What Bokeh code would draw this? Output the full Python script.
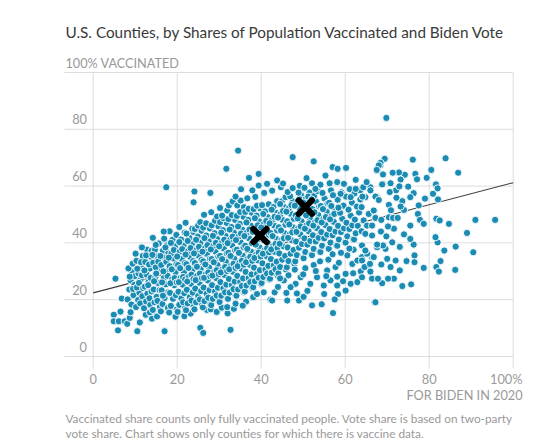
from bokeh.plotting import figure
from bokeh.models import Label, Range1d
from bokeh.embed import file_html
from bokeh.resources import INLINE

# ---------------- texts ----------------
TITLE = "U.S. Counties, by Shares of Population Vaccinated and Biden Vote"
Y_AXIS_LABEL = "100% VACCINATED"
X_AXIS_LABEL = "FOR BIDEN IN 2020"
NOTE_LINES = [
    "Vaccinated share counts only fully vaccinated people. Vote share is based on two-party",
    "vote share. Chart shows only counties for which there is vaccine data.",
]
X_TICKS = [0, 20, 40, 60, 80, 100]
X_TICK_LABELS = ["0", "20", "40", "60", "80", "100%"]
Y_TICKS = [0, 20, 40, 60, 80, 100]
Y_TICK_LABELS = ["0", "20", "40", "60", "80"]

# ---------------- data (Biden share %, vaccinated share %) ----------------
TREND_BIDEN = [0, 100]
TREND_VACCINATED = [22.4, 61.2]
MARKED_BIDEN = [39.7, 50.5]
MARKED_VACCINATED = [42.6, 52.6]

counties_far_left = [
    (5.3, 27.4), (6.8, 20.4), (4.9, 14.7), (6.5, 15.8), (4.9, 12.4), (6.1, 12.4), (7.5, 12.4),
    (8.1, 11.5), (8.7, 13.6), (8.9, 15.6), (5.9, 9.2), (10.5, 8.9), (11.1, 12.0), (12.5, 14.7),
    (13.5, 15.5), (14.0, 13.3), (15.2, 14.1), (17.0, 8.9), (21.7, 14.2), (25.5, 10.1), (26.2, 8.3),
    (27.1, 16.4), (28.0, 16.6), (32.7, 9.4), (32.0, 15.2), (33.5, 16.8), (19.6, 14.0), (23.2, 15.1),
    (29.4, 15.7), (36.4, 19.3), (38.1, 20.9), (35.6, 17.9), (30.6, 17.2),
]

counties_core_west = [
    (8.2, 20.1), (8.6, 23.6), (8.9, 26.8), (9.3, 29.7), (8.4, 31.0), (9.6, 21.6), (9.8, 25.2),
    (9.1, 18.3), (9.9, 28.3), (9.4, 32.7), (8.7, 28.1), (9.5, 23.8),
    (10.2, 17.4), (10.7, 19.9), (11.0, 22.5), (10.4, 24.3), (11.3, 27.1), (10.8, 29.2), (11.5, 31.2),
    (10.3, 33.7), (11.8, 35.4), (11.2, 18.7), (11.7, 21.2), (10.9, 25.9), (11.6, 28.6), (11.9, 24.1),
    (10.5, 30.9), (11.4, 33.2), (10.1, 36.2),
    (12.1, 17.0), (12.6, 19.4), (12.9, 22.1), (12.3, 24.6), (13.2, 26.3), (12.7, 28.9), (13.5, 31.0),
    (12.4, 33.3), (13.8, 35.1), (12.8, 37.6), (13.6, 18.2), (13.9, 22.9), (13.1, 25.1), (13.7, 27.7),
    (12.2, 30.3), (13.3, 32.4), (13.9, 37.2), (12.6, 35.6), (13.4, 20.5),
    (14.2, 16.4), (14.6, 19.1), (15.1, 21.0), (14.4, 23.6), (15.4, 25.9), (14.8, 27.9), (15.7, 30.6),
    (14.3, 33.0), (15.2, 35.3), (14.7, 37.6), (15.6, 39.8), (15.9, 17.5), (15.3, 19.6), (14.5, 26.5),
    (15.8, 23.4), (14.9, 31.4), (15.5, 33.4), (14.1, 35.8), (15.0, 29.2), (14.9, 39.3),
    (16.1, 15.9), (16.5, 18.5), (17.0, 20.6), (16.3, 23.3), (17.3, 25.4), (16.8, 27.6), (17.6, 30.3),
    (16.2, 32.2), (17.1, 34.9), (16.6, 37.2), (17.5, 39.1), (16.9, 41.5), (17.8, 17.1), (17.9, 22.6),
    (16.4, 26.1), (17.7, 28.4), (16.7, 30.0), (17.4, 33.3), (16.0, 35.4), (17.9, 36.6), (16.6, 21.4),
    (17.2, 38.4),
    (18.1, 15.5), (18.5, 17.8), (19.0, 20.3), (18.3, 22.4), (19.3, 25.1), (18.8, 27.2), (19.6, 29.7),
    (18.2, 31.8), (19.1, 34.5), (18.6, 36.3), (19.5, 38.9), (18.9, 41.1), (19.8, 42.8), (19.9, 16.5),
    (19.7, 21.6), (18.4, 25.8), (19.4, 27.6), (18.7, 30.7), (19.8, 32.5), (18.0, 34.8), (19.2, 37.5),
    (18.5, 40.0), (19.9, 26.1), (18.2, 44.1),
    (20.1, 15.7), (20.5, 18.2), (21.0, 20.4), (20.3, 22.8), (21.3, 25.3), (20.8, 27.6), (21.6, 29.6),
    (20.2, 32.2), (21.1, 34.4), (20.6, 36.9), (21.5, 39.1), (20.9, 41.2), (21.8, 43.6), (21.9, 17.1),
    (21.7, 22.3), (20.4, 26.2), (21.4, 28.0), (20.7, 31.1), (21.8, 32.9), (20.0, 35.2), (21.2, 37.8),
    (20.5, 40.3), (21.9, 27.1), (21.4, 19.1), (20.5, 45.6),
]

counties_core_middle = [
    (22.1, 16.3), (22.5, 18.7), (23.0, 20.9), (22.3, 23.5), (23.3, 25.6), (22.8, 28.1), (23.6, 30.4),
    (22.2, 32.5), (23.1, 35.1), (22.6, 37.1), (23.5, 39.6), (22.9, 41.8), (23.8, 43.9), (23.9, 17.6),
    (23.7, 22.5), (22.4, 26.4), (23.4, 28.8), (22.7, 31.2), (23.8, 33.6), (22.0, 35.9), (23.2, 38.2),
    (22.5, 40.7), (23.9, 27.3), (23.4, 19.7), (22.2, 43.3), (22.0, 47.1), (23.6, 45.0),
    (24.1, 16.6), (24.5, 19.1), (25.0, 21.3), (24.3, 23.9), (25.3, 26.0), (24.8, 28.5), (25.6, 30.8),
    (24.2, 32.9), (25.1, 35.5), (24.6, 37.5), (25.5, 40.0), (24.9, 42.2), (25.8, 44.3), (25.9, 18.1),
    (25.7, 23.0), (24.4, 26.9), (25.4, 29.2), (24.7, 31.6), (25.8, 34.0), (24.0, 36.3), (25.2, 38.6),
    (24.5, 41.1), (25.9, 27.6), (25.4, 20.1), (24.2, 44.9), (25.0, 46.1), (25.5, 47.3),
    (26.1, 17.3), (26.5, 19.5), (27.0, 22.1), (26.3, 24.3), (27.3, 26.8), (26.8, 28.9), (27.6, 31.4),
    (26.2, 33.5), (27.1, 36.1), (26.6, 38.1), (27.5, 40.6), (26.9, 42.6), (27.8, 45.1), (27.9, 18.5),
    (27.7, 23.4), (26.4, 27.7), (27.4, 29.6), (26.7, 32.4), (27.8, 34.4), (26.0, 36.9), (27.2, 39.2),
    (26.5, 41.7), (27.9, 28.2), (27.4, 20.7), (26.2, 45.4), (26.9, 46.9), (26.4, 49.9),
    (28.1, 18.1), (28.5, 20.3), (29.0, 22.9), (28.3, 25.1), (29.3, 27.6), (28.8, 29.7), (29.6, 32.2),
    (28.2, 34.3), (29.1, 36.9), (28.6, 38.9), (29.5, 41.4), (28.9, 43.4), (29.8, 45.9), (29.9, 19.3),
    (29.7, 24.2), (28.4, 28.5), (29.4, 30.4), (28.7, 33.2), (29.8, 35.2), (28.0, 37.7), (29.2, 40.0),
    (28.5, 42.5), (29.9, 29.0), (29.4, 21.5), (28.2, 46.2), (29.0, 47.8), (28.1, 50.8), (29.5, 49.3),
    (30.1, 19.2), (30.5, 21.4), (31.0, 24.0), (30.3, 26.2), (31.3, 28.7), (30.8, 30.8), (31.6, 33.3),
    (30.2, 35.4), (31.1, 38.0), (30.6, 40.0), (31.5, 42.5), (30.9, 44.5), (31.8, 47.0), (31.9, 20.4),
    (31.7, 25.3), (30.4, 29.6), (31.4, 31.5), (30.7, 34.3), (31.8, 36.3), (30.0, 38.8), (31.2, 41.1),
    (30.5, 43.6), (31.9, 30.1), (31.4, 22.6), (30.2, 47.3), (31.0, 48.7), (30.7, 49.6), (30.2, 52.3),
    (31.9, 51.4),
    (32.1, 20.3), (32.5, 22.5), (33.0, 25.1), (32.3, 27.3), (33.3, 29.8), (32.8, 31.9), (33.6, 34.4),
    (32.2, 36.5), (33.1, 39.1), (32.6, 41.1), (33.5, 43.6), (32.9, 45.6), (33.8, 48.1), (33.9, 21.5),
    (33.7, 26.4), (32.4, 30.7), (33.4, 32.6), (32.7, 35.4), (33.8, 37.4), (32.0, 39.9), (33.2, 42.2),
    (32.5, 44.7), (33.9, 31.2), (33.4, 23.7), (32.2, 48.4), (33.0, 49.8), (32.3, 53.2), (33.2, 54.6),
    (34.1, 21.4), (34.5, 23.6), (35.0, 26.2), (34.3, 28.4), (35.3, 30.9), (34.8, 33.0), (35.6, 35.5),
    (34.2, 37.6), (35.1, 40.2), (34.6, 42.2), (35.5, 44.7), (34.9, 46.7), (35.8, 49.2), (35.9, 22.6),
    (35.7, 27.5), (34.4, 31.8), (35.4, 33.7), (34.7, 36.5), (35.8, 38.5), (34.0, 41.0), (35.2, 43.3),
    (34.5, 45.8), (35.9, 32.3), (35.4, 24.8), (34.2, 49.5), (35.0, 50.9), (34.3, 53.2), (35.1, 54.9),
    (35.9, 52.6),
]

counties_core_east = [
    (36.1, 22.9), (36.5, 25.0), (37.0, 27.6), (36.3, 29.8), (37.3, 32.3), (36.8, 34.4), (37.6, 36.9),
    (36.2, 39.0), (37.1, 41.6), (36.6, 43.6), (37.5, 46.1), (36.9, 48.1), (37.8, 50.6), (37.9, 24.1),
    (37.7, 28.9), (36.4, 33.2), (37.4, 35.1), (36.7, 37.9), (37.8, 39.9), (36.0, 42.4), (37.2, 44.7),
    (36.5, 47.2), (37.9, 33.7), (37.4, 26.2), (36.2, 50.9), (37.0, 52.0), (36.7, 55.7),
    (38.1, 24.4), (38.5, 26.5), (39.0, 29.1), (38.3, 31.3), (39.3, 33.8), (38.8, 35.9), (39.6, 38.4),
    (38.2, 40.5), (39.1, 43.1), (38.6, 45.1), (39.5, 47.6), (38.9, 49.6), (39.8, 52.1), (39.9, 25.6),
    (39.7, 30.4), (38.4, 34.7), (39.4, 36.6), (38.7, 39.4), (39.8, 41.4), (38.0, 43.9), (39.2, 46.2),
    (38.5, 48.7), (39.9, 35.2), (39.4, 27.7), (38.2, 51.9), (39.0, 53.1), (38.6, 56.2),
    (40.1, 25.9), (40.5, 28.0), (41.0, 30.6), (40.3, 32.8), (41.3, 35.3), (40.8, 37.4), (41.6, 39.9),
    (40.2, 42.0), (41.1, 44.6), (40.6, 46.6), (41.5, 49.1), (40.9, 51.1), (41.8, 53.6), (41.9, 27.1),
    (41.7, 31.9), (40.4, 36.2), (41.4, 38.1), (40.7, 40.9), (41.8, 42.9), (40.0, 45.4), (41.2, 47.7),
    (40.5, 50.2), (41.9, 36.7), (41.4, 29.2), (40.2, 53.3), (40.7, 57.6),
    (42.1, 27.4), (42.5, 29.5), (43.0, 32.1), (42.3, 34.3), (43.3, 36.8), (42.8, 38.9), (43.6, 41.4),
    (42.2, 43.5), (43.1, 46.1), (42.6, 48.1), (43.5, 50.6), (42.9, 52.6), (43.8, 54.7), (43.9, 28.6),
    (43.7, 33.4), (42.4, 37.7), (43.4, 39.6), (42.7, 42.4), (43.8, 44.4), (42.0, 46.9), (43.2, 49.2),
    (42.5, 51.7), (43.9, 38.2), (43.4, 30.7), (42.6, 58.4),
    (44.1, 29.3), (44.5, 31.5), (45.0, 34.1), (44.3, 36.3), (45.3, 38.8), (44.8, 40.9), (45.6, 43.4),
    (44.2, 45.5), (45.1, 48.1), (44.6, 50.1), (45.5, 52.6), (44.9, 54.6), (45.8, 56.1), (45.9, 30.6),
    (45.7, 35.4), (44.4, 39.7), (45.4, 41.6), (44.7, 44.4), (45.8, 46.4), (44.0, 48.9), (45.2, 51.2),
    (44.5, 53.7), (44.7, 59.6),
    (46.1, 31.4), (46.5, 33.6), (47.0, 36.2), (46.3, 38.4), (47.3, 40.9), (46.8, 43.0), (47.6, 45.5),
    (46.2, 47.6), (47.1, 50.2), (46.6, 52.2), (47.5, 54.7), (46.9, 56.4), (47.9, 32.7), (47.7, 37.5),
    (46.4, 41.8), (47.4, 43.7), (46.7, 46.5), (47.8, 48.5), (46.0, 51.0), (47.2, 53.3),
    (48.1, 33.5), (48.5, 35.7), (49.0, 38.3), (48.3, 40.5), (49.3, 43.0), (48.8, 45.1), (49.6, 47.6),
    (48.2, 49.7), (49.1, 52.3), (48.6, 54.3), (49.5, 56.8), (49.9, 34.8), (49.7, 39.6), (48.4, 43.9),
    (49.4, 45.8), (48.7, 48.6), (49.8, 50.6), (48.0, 53.1), (49.2, 55.4), (48.9, 57.7), (49.2, 60.1),
    (50.1, 34.6), (50.5, 36.8), (51.0, 39.4), (50.3, 41.6), (51.3, 44.1), (50.8, 46.2), (51.6, 48.7),
    (50.2, 50.8), (51.1, 53.4), (50.6, 55.4), (51.5, 57.7), (51.9, 35.9), (51.7, 40.7), (50.4, 45.0),
    (51.4, 46.9), (50.7, 49.7), (51.8, 51.7), (50.0, 54.2), (51.2, 56.3), (50.3, 59.4),
    (52.1, 35.7), (52.5, 37.9), (53.0, 40.5), (52.3, 42.7), (53.3, 45.2), (52.8, 47.3), (53.6, 49.8),
    (52.2, 51.9), (53.1, 54.5), (52.6, 56.5), (53.5, 58.2), (53.9, 37.0), (53.7, 41.8), (52.4, 46.1),
    (53.4, 48.0), (52.7, 50.8), (53.8, 52.8), (52.0, 55.3),
    (54.1, 36.8), (54.5, 39.0), (55.0, 41.6), (54.3, 43.8), (55.3, 46.3), (54.8, 48.4), (55.6, 50.9),
    (54.2, 53.0), (55.1, 55.6), (54.6, 57.6), (55.9, 38.1), (55.7, 42.9), (54.4, 47.2), (55.4, 49.1),
    (54.7, 51.9), (55.8, 53.9), (54.1, 60.5),
    (56.1, 37.9), (56.5, 40.1), (57.0, 42.7), (56.3, 44.9), (57.3, 47.4), (56.8, 49.5), (57.6, 52.0),
    (56.2, 54.1), (57.1, 56.7), (56.6, 58.5), (57.9, 39.2), (57.7, 44.0), (56.4, 48.3), (57.4, 50.2),
    (56.7, 53.0),
    (58.1, 39.0), (58.5, 41.2), (59.0, 43.8), (58.3, 46.0), (59.3, 48.5), (58.8, 50.6), (59.6, 53.1),
    (58.2, 55.2), (59.1, 57.8), (59.9, 40.3), (59.7, 45.1), (58.4, 52.4),
    (60.1, 40.1), (60.5, 42.3), (61.0, 44.9), (60.3, 47.1), (61.3, 49.6), (60.8, 51.7), (61.6, 54.2),
    (60.2, 56.3), (61.1, 58.9), (61.9, 41.4), (61.7, 46.2),
    (62.1, 41.2), (62.5, 43.4), (63.0, 46.0), (62.3, 48.2), (63.3, 50.7), (62.8, 52.8), (63.6, 55.3),
    (62.2, 57.4), (63.9, 44.1),
]

counties_upper = [
    (17.4, 59.6), (24.1, 58.1), (27.9, 57.6), (23.9, 54.3), (31.7, 66.1), (34.5, 72.5), (37.1, 62.9),
    (39.4, 64.3), (47.5, 70.2), (52.5, 68.7), (57.0, 66.7), (58.2, 66.1), (60.2, 66.4), (55.3, 63.7),
    (50.8, 62.8), (43.8, 62.0), (41.4, 60.8), (39.4, 60.2), (37.9, 58.5), (33.9, 56.3), (46.3, 57.9),
    (47.5, 59.3), (52.1, 61.0), (52.9, 59.0), (56.3, 61.0), (58.1, 61.4), (59.7, 60.8), (62.5, 62.2),
    (65.2, 61.4), (63.6, 58.5), (67.6, 65.5), (68.4, 67.3), (69.4, 69.6), (69.0, 60.8), (66.0, 59.6),
    (67.5, 56.3), (64.8, 56.1), (61.3, 56.1), (62.5, 59.0), (58.9, 57.3), (57.1, 56.8), (69.8, 84.0),
    (14.2, 41.8), (11.6, 38.4), (16.8, 44.0), (45.2, 60.9), (35.2, 58.9), (64.3, 59.6), (64.1, 56.3),
    (63.9, 52.6), (64.4, 47.9), (65.2, 46.1), (66.4, 46.1), (64.8, 43.2), (66.4, 42.6), (64.0, 39.1),
]

counties_lower = [
    (31.9, 17.4), (33.9, 18.6), (49.0, 19.7), (50.1, 21.0), (52.1, 18.0), (54.4, 18.4), (58.3, 22.0),
    (67.0, 19.1), (46.2, 19.7), (43.2, 22.6), (42.2, 20.0), (40.6, 22.6), (55.7, 30.3), (57.7, 31.5),
    (61.3, 25.6), (62.9, 26.2), (60.1, 23.2), (58.1, 25.0), (65.2, 31.5), (66.4, 27.4), (63.7, 30.0),
    (61.7, 32.6), (64.0, 35.0), (66.4, 35.0), (67.6, 38.5), (51.7, 25.6), (53.3, 27.9), (49.4, 27.9),
    (48.2, 25.6), (47.0, 24.4), (45.4, 26.8), (54.9, 25.0), (56.5, 26.8), (58.1, 28.1), (60.1, 29.1),
    (61.9, 29.3), (62.9, 33.8), (42.6, 19.7), (57.1, 15.3), (44.0, 24.5), (46.5, 28.6), (48.0, 30.6),
    (50.5, 31.1), (52.5, 32.2), (54.0, 33.5), (56.0, 34.1), (58.5, 33.0), (60.5, 35.6), (62.0, 37.6),
    (50.0, 28.9), (53.0, 30.1), (55.5, 28.3), (57.0, 36.0), (59.0, 36.5), (44.5, 27.5), (46.0, 22.4),
    (48.5, 22.2), (51.0, 23.1), (55.0, 22.0), (57.5, 20.1), (59.5, 26.5), (61.0, 38.0), (39.0, 22.0),
    (65.2, 36.2), (64.0, 33.8), (64.6, 31.5), (64.0, 27.9), (66.0, 29.9), (65.6, 50.2), (66.8, 51.4),
]

counties_east = [
    (69.4, 69.6), (68.4, 68.2), (68.0, 67.3), (67.5, 65.7), (76.1, 69.3), (83.9, 69.8), (86.9, 64.7),
    (80.5, 65.7), (76.7, 64.3), (74.2, 64.0), (72.8, 64.8), (71.3, 64.7), (69.0, 64.1), (79.4, 62.9),
    (77.1, 62.4), (73.2, 62.3), (70.8, 61.0), (68.8, 60.6), (65.1, 61.4), (66.0, 58.5), (81.6, 60.6),
    (82.0, 59.2), (80.9, 57.3), (82.1, 55.3), (76.3, 57.5), (75.5, 56.1), (73.6, 54.7), (72.2, 55.9),
    (72.1, 58.5), (70.6, 57.9), (72.9, 59.9), (67.2, 56.3), (68.0, 55.1), (77.5, 53.2), (74.0, 51.6),
    (73.2, 52.8), (70.4, 53.4), (66.8, 51.4), (67.2, 48.8), (68.6, 48.1), (70.4, 49.0), (71.4, 48.8),
    (72.5, 48.8), (77.3, 50.2), (77.8, 48.1), (78.7, 46.7), (75.5, 46.1), (81.7, 48.5), (82.5, 47.9),
    (84.7, 46.7), (91.0, 48.1), (95.7, 48.1), (89.0, 43.5), (90.5, 36.7), (86.3, 38.7), (83.6, 37.3),
    (82.0, 40.2), (81.5, 42.0), (82.7, 33.6), (81.7, 31.5), (82.3, 29.9), (86.2, 30.5), (78.7, 31.2),
    (76.3, 39.4), (76.5, 35.6), (76.5, 33.2), (74.6, 33.6), (74.0, 43.0), (73.0, 30.3), (73.6, 24.8),
    (75.7, 25.4), (71.6, 27.4), (70.2, 27.4), (68.8, 25.8), (67.8, 27.4), (70.8, 31.5), (68.6, 32.4),
    (67.2, 19.1), (70.0, 34.4), (69.6, 37.9), (69.0, 39.1), (67.6, 39.4), (66.8, 35.0), (65.9, 32.6),
    (64.8, 37.3), (71.2, 40.2), (71.6, 45.0), (70.2, 45.8), (75.5, 41.4), (72.0, 33.8), (68.5, 44.0),
    (69.8, 42.3), (73.0, 38.6), (70.9, 51.5), (75.0, 59.8), (79.0, 55.6),
]

all_counties = (counties_far_left + counties_core_west + counties_core_middle + counties_core_east
                + counties_upper + counties_lower + counties_east)
biden_share = [c[0] for c in all_counties]
vaccinated_share = [c[1] for c in all_counties]

# ---------------- layout (frame fills the whole canvas) ----------------
W, H = 558, 441
X0_PX, X_PX_PER_UNIT = 92.7, 4.2      # page x of 0 %, pixels per percentage point
Y0_PX, Y_PX_PER_UNIT = 356.0, 2.84    # page y of 0 %, pixels per percentage point


def page_x(px):
    return (px - X0_PX) / X_PX_PER_UNIT


def page_y(py):
    return (Y0_PX - py) / Y_PX_PER_UNIT


p = figure(width=W, height=H, output_backend="svg", toolbar_location=None,
           x_range=Range1d(page_x(0), page_x(W)), y_range=Range1d(page_y(H), page_y(0)),
           x_axis_location=None, y_axis_location=None,
           min_border=0, min_border_left=0, min_border_right=0,
           min_border_top=0, min_border_bottom=0)
p.outline_line_color = None
p.background_fill_color = "white"
p.border_fill_color = "white"
p.grid.visible = False

GRID = "#dddddd"
# horizontal grid lines (0..100) starting left of the y tick labels
p.segment(x0=[page_x(64)] * len(Y_TICKS), x1=[100] * len(Y_TICKS), y0=Y_TICKS, y1=Y_TICKS,
          line_color=GRID, line_width=1)
# vertical grid lines (0..100), reaching a little below the zero line
p.segment(x0=X_TICKS, x1=X_TICKS, y0=[page_y(368)] * len(X_TICKS), y1=[100] * len(X_TICKS),
          line_color=GRID, line_width=1)

FONT = "Lato"
GREY = "#999999"

p.line(TREND_BIDEN, TREND_VACCINATED, line_color="#3a3a3a", line_width=1.1)
p.scatter(biden_share, vaccinated_share, size=7.2, fill_color="#1a8cb3",
          line_color="white", line_width=0.9)
p.scatter(MARKED_BIDEN, MARKED_VACCINATED, marker="x", size=19, line_color="black",
          line_width=6, line_cap="round")


def label(x, y, text, size, color=GREY, align="left"):
    p.add_layout(Label(x=x, y=y, text=text, text_font=FONT, text_font_size=size,
                       text_color=color, text_align=align, text_baseline="middle"))


# texts (positions are the vertical centres of the lines of text)
label(page_x(65), page_y(31.5), TITLE, "15.3px", color="#3a3a3a")
label(page_x(65), page_y(62), Y_AXIS_LABEL, "12.7px")
for v, t in zip(Y_TICKS, Y_TICK_LABELS):
    label(page_x(86.5), v + 10 / Y_PX_PER_UNIT, t, "12.8px", align="right")
for v, t in zip(X_TICKS, X_TICK_LABELS):
    if t.endswith("%"):
        label(page_x(522), page_y(378.5), t, "12.8px", align="right")
    else:
        label(v, page_y(378.5), t, "12.8px", align="center")
label(page_x(522), page_y(394.5), X_AXIS_LABEL, "12.7px", align="right")
for i, line in enumerate(NOTE_LINES):
    label(page_x(65), page_y(418 + 15 * i), line, "11.8px")

open("out.html", "w").write(file_html(p, INLINE))
